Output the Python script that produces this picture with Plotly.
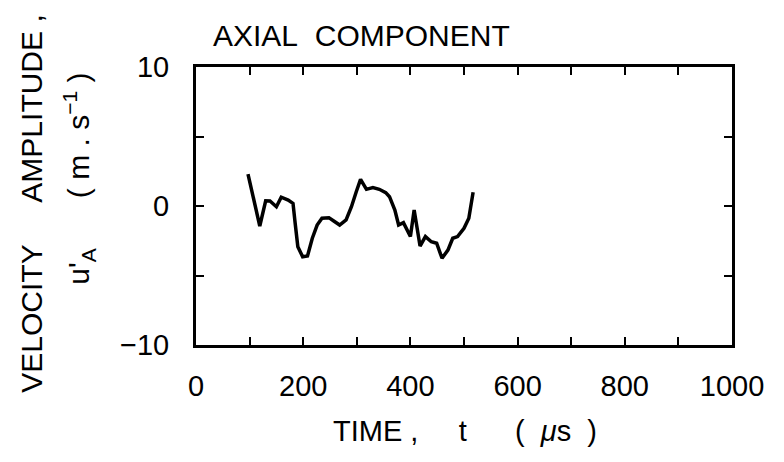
import plotly.graph_objects as go

# Data (time in microseconds, velocity amplitude in m/s)
time_us = [97, 119, 130, 138, 150, 159, 172, 181, 185, 190, 199, 208, 217, 226, 235,
           248, 257, 268, 280, 290, 299, 307, 318, 330, 342, 354, 361, 371, 378, 387,
           400, 407, 418, 428, 439, 449, 459, 470, 479, 488, 500, 509, 517]
velocity = [2.3, -1.44, 0.37, 0.36, -0.05, 0.63, 0.43, 0.19, -1.24, -2.93, -3.65, -3.6, -2.32, -1.37, -0.88,
            -0.84, -1.08, -1.37, -1.0, -0.05, 1.03, 1.92, 1.2, 1.32, 1.2, 0.96, 0.67, -0.29, -1.37, -1.2,
            -2.2, -0.29, -2.88, -2.2, -2.57, -2.68, -3.76, -3.17, -2.32, -2.2, -1.6, -0.88, 0.99]

x_tickvals = [0, 100, 200, 300, 400, 500, 600, 700, 800, 900, 1000]
x_ticktext = ["0", "", "200", "", "400", "", "600", "", "800", "", "1000"]
y_tickvals = [-10, -5, 0, 5, 10]
y_ticktext = ["\u221210", "", "0", "", "10"]

NB = "\u00a0"
title_text = "AXIAL" + NB * 2 + "COMPONENT"
x_title = ("TIME" + NB + "," + NB * 5 + "t" + NB * 6 + "(" + NB * 2 + "<i>\u03bc</i>s"
           + NB * 2 + ")")
y_title_1 = "VELOCITY" + NB * 5 + "AMPLITUDE" + NB + ","
y_title_2 = ("u'<sub>A</sub>" + NB * 6 + "(" + NB + "m" + NB + "." + NB + "s<sup>\u22121</sup>"
             + NB + ")")

FONT = "Liberation Sans, Arial, sans-serif"

fig = go.Figure()
fig.add_trace(go.Scatter(x=time_us, y=velocity, mode="lines",
                         line=dict(color="black", width=3.5), showlegend=False))

# The page body has an 8px margin; size the figure so the plot frame lands
# where the reference has it (x 196..744, y 67..345 in the 784x462 window).
OFF = 8
W, H = 784 - 2 * OFF, 462 - 2 * OFF
L, R, T, B = 196 - OFF, W + OFF - 744, 67 - OFF, H + OFF - 345
pw, ph = W - L - R, H - T - B


def px_x(px):
    return (px - OFF - L) / pw


def px_y(py):
    return (H + OFF - B - py) / ph


fig.update_layout(
    width=W, height=H,
    margin=dict(l=L, r=R, t=T, b=B, pad=0),
    paper_bgcolor="white", plot_bgcolor="white",
    font=dict(family=FONT, color="black", size=29),
    xaxis=dict(range=[0, 1000], tickvals=x_tickvals, ticktext=x_ticktext,
               showline=True, linecolor="black", linewidth=3, mirror="ticks",
               ticks="inside", ticklen=8, tickwidth=2, tickcolor="black",
               showgrid=False, zeroline=False, ticklabelstandoff=13,
               ticklabeloverflow="allow",
               tickfont=dict(size=29, family=FONT)),
    yaxis=dict(range=[-10, 10], tickvals=y_tickvals, ticktext=y_ticktext,
               showline=True, linecolor="black", linewidth=3, mirror="ticks",
               ticks="inside", ticklen=8, tickwidth=2, tickcolor="black",
               showgrid=False, zeroline=False, ticklabelstandoff=18,
               ticklabeloverflow="allow",
               tickfont=dict(size=29, family=FONT)),
)

fig.add_annotation(text=title_text, xref="paper", yref="paper",
                   x=px_x(365), y=px_y(35), showarrow=False,
                   xanchor="center", yanchor="middle", font=dict(size=30, family=FONT))
fig.add_annotation(text=x_title, xref="paper", yref="paper",
                   x=px_x(471), y=px_y(431), showarrow=False,
                   xanchor="center", yanchor="middle", font=dict(size=29, family=FONT))
fig.add_annotation(text=y_title_1, xref="paper", yref="paper",
                   x=px_x(27), y=px_y(204), showarrow=False, textangle=-90,
                   xanchor="center", yanchor="middle", font=dict(size=30, family=FONT))
fig.add_annotation(text=y_title_2, xref="paper", yref="paper",
                   x=px_x(76), y=px_y(179), showarrow=False, textangle=-90,
                   xanchor="center", yanchor="middle", font=dict(size=30, family=FONT))

fig.write_html("out.html")
